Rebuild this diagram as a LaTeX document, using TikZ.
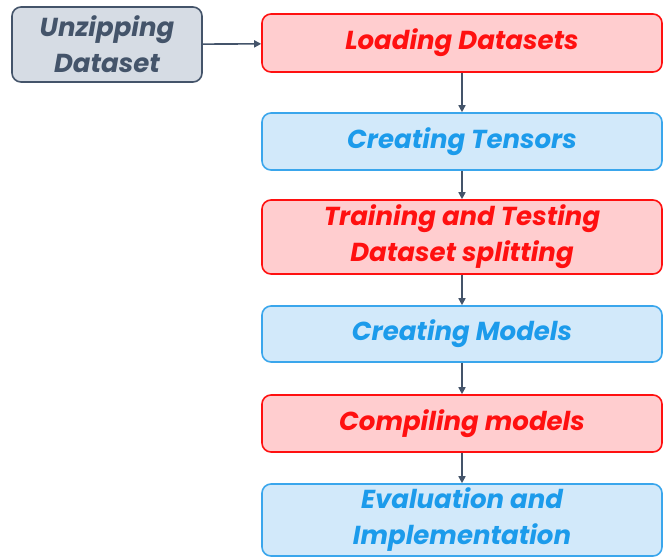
\documentclass[tikz,border=0pt]{standalone}
\usepackage{fontspec}
\setmainfont{Poppins}
\usetikzlibrary{arrows.meta}
\definecolor{redline}{HTML}{FF1010}
\definecolor{redfill}{HTML}{FFCDCF}
\definecolor{blueline}{HTML}{3AA6EC}
\definecolor{bluefill}{HTML}{D2E9FA}
\definecolor{bluetext}{HTML}{1C9BEB}
\definecolor{slate}{HTML}{44546A}
\definecolor{slatefill}{HTML}{D6DCE4}
\tikzset{
  x=1pt, y=-1pt,
  box/.style={rounded corners=9pt, line width=1.6pt, align=center,
    font=\fontsize{26}{36}\selectfont\bfseries\itshape, inner sep=0pt},
  redbox/.style={box, draw=redline, fill=redfill, text=redline},
  bluebox/.style={box, draw=blueline, fill=bluefill, text=bluetext},
  graybox/.style={box, draw=slate, fill=slatefill, text=slate},
  link/.style={draw=slate, line width=1.6pt, -{Triangle[length=7pt,width=7pt]}}
}
\begin{document}
\begin{tikzpicture}
\useasboundingbox (0,0) rectangle (665,558);
\node[graybox, minimum width=190pt, minimum height=75pt] (unzip) at (107,44.5) {Unzipping\\Dataset};
\node[redbox, minimum width=400pt, minimum height=58pt] (load) at (462,43) {Loading Datasets};
\node[bluebox, minimum width=400pt, minimum height=57pt] (tensor) at (462,141.5) {Creating Tensors};
\node[redbox, minimum width=400pt, minimum height=74pt] (split) at (462,237) {Training and Testing\\Dataset splitting};
\node[bluebox, minimum width=400pt, minimum height=56pt] (models) at (462,334) {Creating Models};
\node[redbox, minimum width=400pt, minimum height=57pt] (compile) at (462,423.5) {Compiling models};
\node[bluebox, minimum width=400pt, minimum height=72pt] (eval) at (462,520) {Evaluation and\\Implementation};
\draw[link] (unzip) -- (load);
\draw[link] (load) -- (tensor);
\draw[link] (tensor) -- (split);
\draw[link] (split) -- (models);
\draw[link] (models) -- (compile);
\draw[link] (compile) -- (eval);
\end{tikzpicture}
\end{document}
